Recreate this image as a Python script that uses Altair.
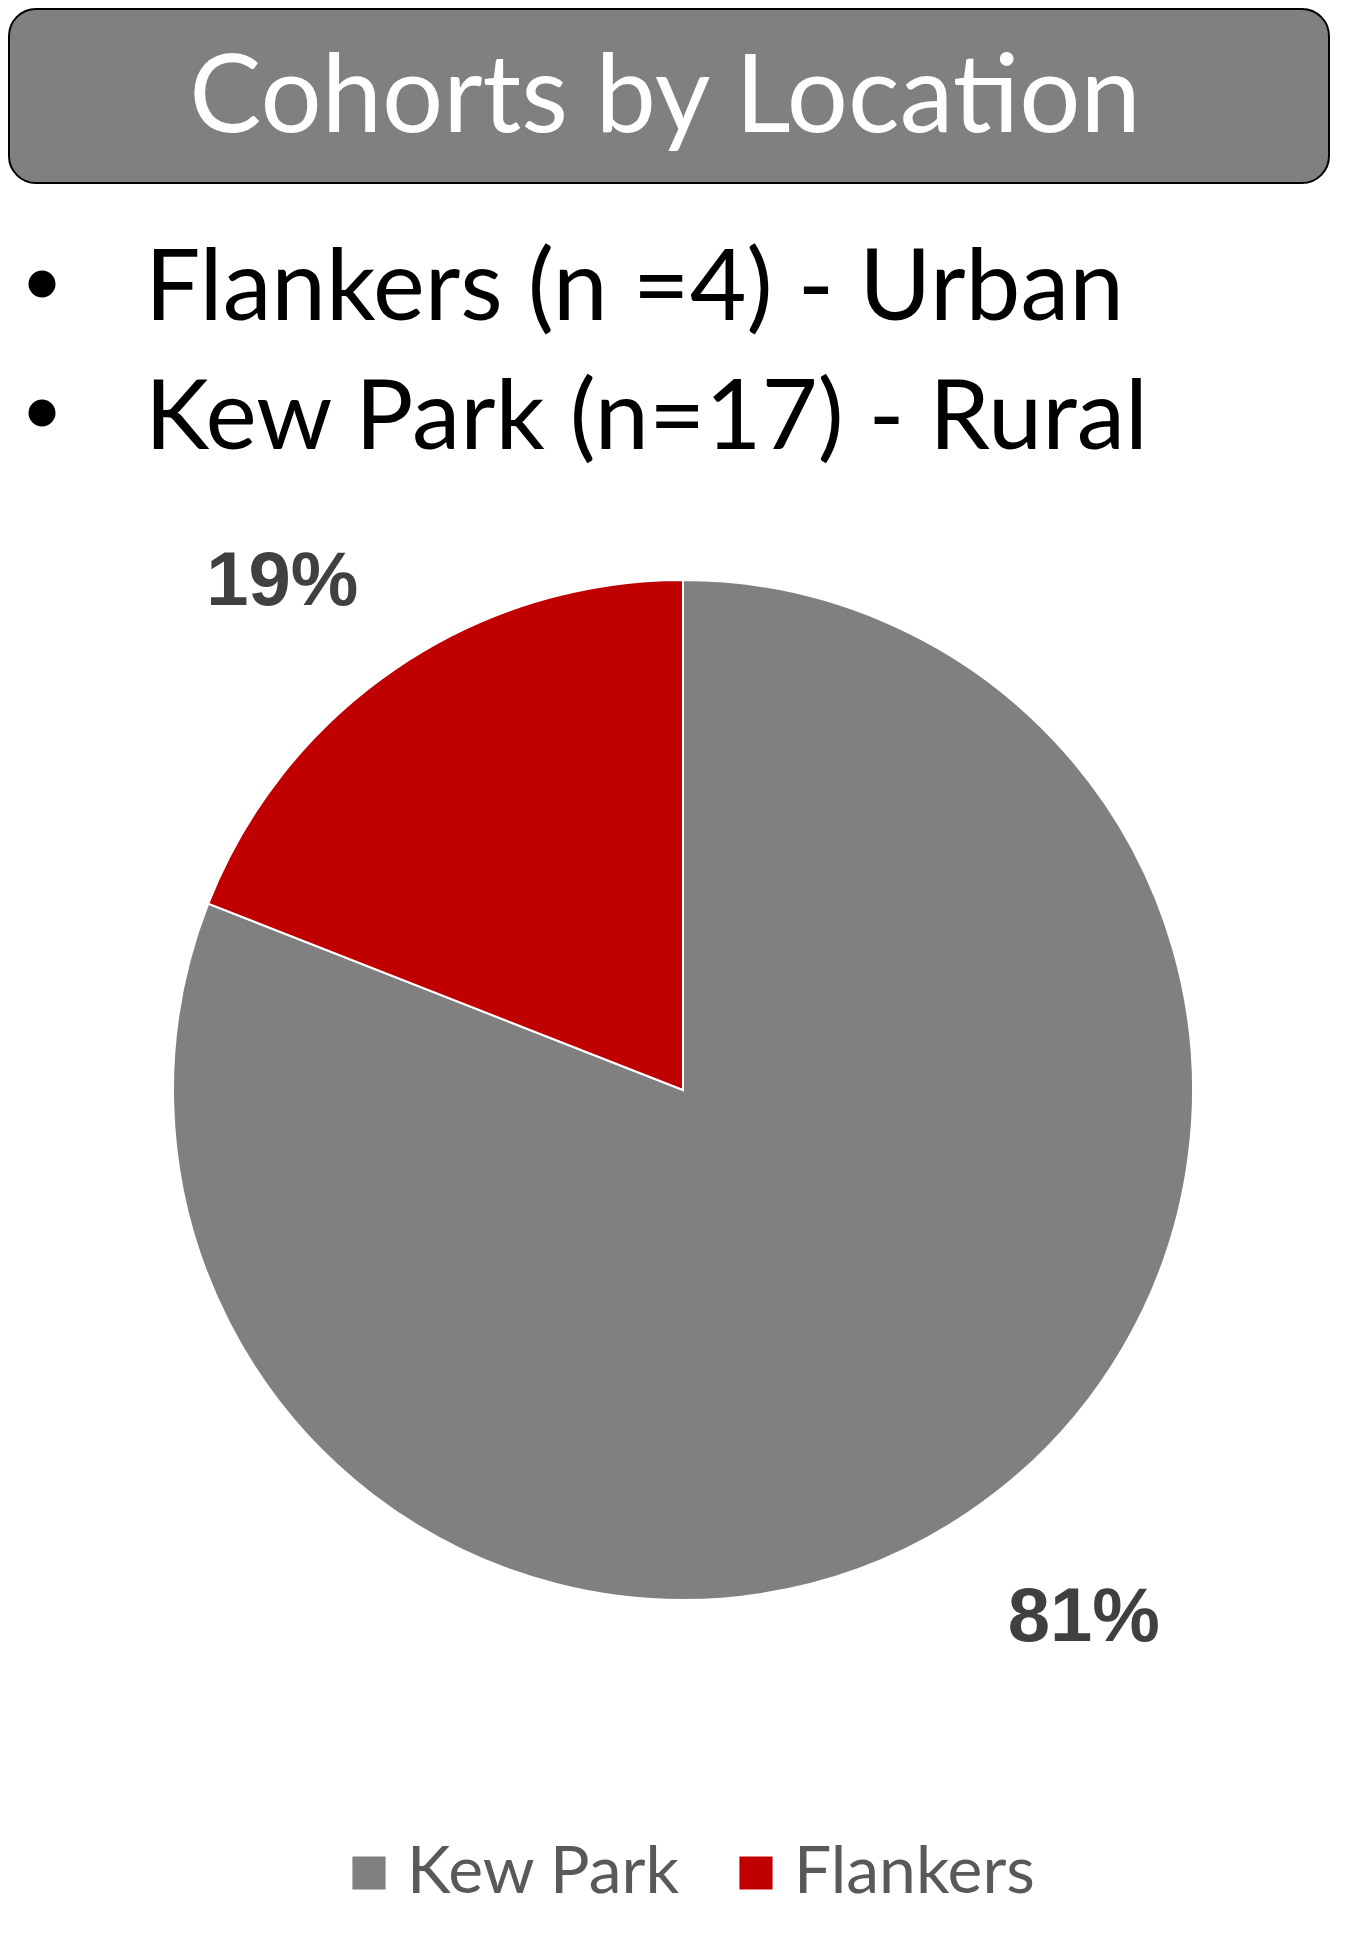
import altair as alt
import pandas as pd

# ---- data ----
locations = ["Kew Park", "Flankers"]
counts = [17, 4]
slice_order = [0, 1]
colors = ["#808080", "#C00000"]
title_text = ["Cohorts by Location"]
bullet_lines = ["Flankers (n =4) - Urban", "Kew Park (n=17) - Rural"]

total = sum(counts)
df = pd.DataFrame({
    "location": locations,
    "count": counts,
    "order": slice_order,
    "label": [f"{round(c / total * 100)}%" for c in counts],
})

W, H = 1330, 1919
CX, CY = 675, 1082
R = 510
BODY_FONT = "Lato"

# title box
title_df = pd.DataFrame({"t": title_text})
box = alt.Chart(title_df).mark_rect(
    cornerRadius=27, fill="#808080", stroke="black", strokeWidth=2
).encode(x=alt.value(1), x2=alt.value(1321), y=alt.value(1), y2=alt.value(175))
title = alt.Chart(title_df).mark_text(
    font=BODY_FONT, fontSize=108, color="white", align="center", baseline="alphabetic"
).encode(text="t:N", x=alt.value(657), y=alt.value(124))

# bullets
bullet_y = [312, 441]
bullet_sizes = [98, 97]
layers = [box, title]
for line, yb, fs in zip(bullet_lines, bullet_y, bullet_sizes):
    bdf = pd.DataFrame({"t": [line]})
    layers.append(
        alt.Chart(bdf).mark_point(filled=True, shape="circle", size=729, color="black", opacity=1)
        .encode(x=alt.value(34), y=alt.value(yb - 36))
    )
    layers.append(
        alt.Chart(bdf).mark_text(
            font=BODY_FONT, fontSize=fs, color="black", align="left", baseline="alphabetic"
        ).encode(text="t:N", x=alt.value(137), y=alt.value(yb))
    )

base = alt.Chart(df).encode(
    theta=alt.Theta("count:Q", stack=True),
    order=alt.Order("order:Q"),
)
pie = base.mark_arc(outerRadius=R, stroke="white", strokeWidth=2).encode(
    color=alt.Color(
        "location:N",
        scale=alt.Scale(domain=locations, range=colors),
        legend=alt.Legend(
            title=None,
            orient="none",
            legendX=328,
            legendY=1832,
            direction="horizontal",
            symbolType="square",
            symbolSize=1100,
            symbolStrokeWidth=0,
            labelFont=BODY_FONT,
            labelFontSize=66,
            labelColor="#595959",
            labelOffset=5,
            labelLimit=600,
            columnPadding=42,
        ),
    ),
    x=alt.value(CX),
    y=alt.value(CY),
)
labels = base.mark_text(
    radius=655, thetaOffset=-0.06, dy=10, font="Liberation Sans", fontWeight="bold",
    fontSize=76, color="#404040", align="center", baseline="middle"
).encode(text="label:N", x=alt.value(CX), y=alt.value(CY))

layers += [pie, labels]

chart = alt.layer(*layers).properties(width=W, height=H, padding=0).configure_view(strokeWidth=0)

chart.save("out.html", embed_options={"renderer": "svg", "actions": False})
